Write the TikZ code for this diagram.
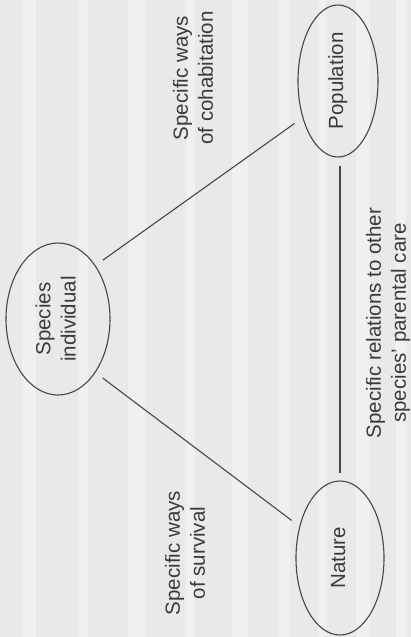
\documentclass[tikz,border=0pt]{standalone}
\usepackage{fontspec}
\setmainfont{Liberation Sans}
\usetikzlibrary{shapes.geometric}
\definecolor{paper}{RGB}{233,233,235}
\definecolor{streak}{RGB}{246,246,248}
\definecolor{ink}{RGB}{58,58,60}
\definecolor{rule}{RGB}{70,70,72}
\tikzset{
  every picture/.style={x=1pt,y=-1pt},
  txt/.style={font=\fontsize{20.5}{25}\selectfont, text=ink},
  blob/.style={draw=rule, line width=1.1pt, ellipse, inner sep=0pt, txt},
  tag/.style={txt, rotate=90, align=center, inner sep=0pt},
  link/.style={draw=rule, line width=1.1pt}
}
\newcommand{\uptext}[1]{\rotatebox{90}{\begin{tabular}{@{}c@{}}#1\end{tabular}}}
\begin{document}
\begin{tikzpicture}
  % page
  \fill[paper] (0,0) rectangle (411,637);
  \useasboundingbox (0,0) rectangle (411,637);
  % faint vertical streaks of the paper
  \foreach \sx/\sw in {22/14, 78/10, 128/18, 186/9, 232/16, 278/12, 318/8, 356/14, 396/10}
    \fill[streak, opacity=0.55] (\sx,0) rectangle (\sx+\sw,637);

  % concepts
  \node[blob, minimum width=104pt, minimum height=152pt] (sp)  at (58,319)  {\uptext{Species\\individual}};
  \node[blob, minimum width=80pt,  minimum height=152pt] (pop) at (338,81)  {\uptext{Population}};
  \node[blob, minimum width=88pt,  minimum height=154pt] (nat) at (340,558) {\uptext{Nature}};

  % relations
  \draw[link, shorten <=9pt, shorten >=9.7pt] (sp.55.7) -- (pop.226);
  \draw[link, shorten <=9pt, shorten >=9.7pt] (sp.-55.5) -- (nat.142.2);
  \draw[link, shorten <=8pt, shorten >=7pt] (pop.south -| nat.north) -- (nat.north);

  % relation labels
  \node[tag] (coh)  at (193,78)  {Specific ways\\of cohabitation};
  \node[tag] (surv) at (185,553) {Specific ways\\of survival};
  \node[tag] (rel)  at (388,323) {Specific relations to other\\species’ parental care};
\end{tikzpicture}
\end{document}
